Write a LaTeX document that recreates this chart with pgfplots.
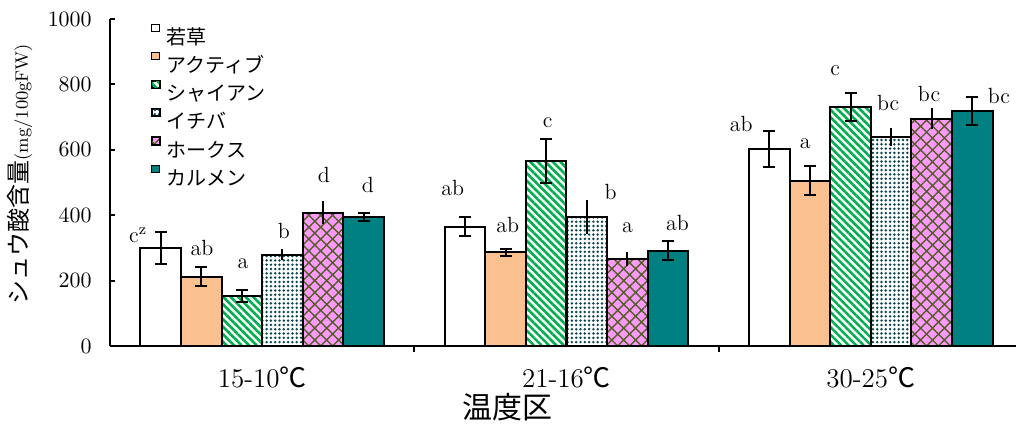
\documentclass[border=0pt]{standalone}
\usepackage{fontspec}
\usepackage{pgfplots}
\pgfplotsset{compat=1.18}
\usetikzlibrary{patterns.meta,calc}
\newfontfamily\cjk{Noto Sans CJK JP}

\definecolor{peach}{RGB}{250,192,143}
\definecolor{stripegreen}{RGB}{0,176,80}
\definecolor{dotteal}{RGB}{10,70,80}
\definecolor{hawkpink}{RGB}{255,153,255}
\definecolor{hatcholive}{RGB}{80,96,32}
\definecolor{carmenteal}{RGB}{0,128,128}

\pgfplotsset{
  legsq/.style={legend image code/.code={%
      \draw[##1,draw=black,line width=0.5pt] (0pt,2.8pt) rectangle (4pt,6.6pt);}},
  errs/.style={
    error bars/y dir=both, error bars/y explicit,
    error bars/error bar style={black,line width=1pt},
    error bars/error mark options={black,line width=1pt,mark size=3pt,rotate=90}},
  errsnocap/.style={
    error bars/y dir=both, error bars/y explicit,
    error bars/error bar style={black,line width=1pt},
    error bars/error mark=none},
}

\newcommand{\lbl}[3]{\node[anchor=base,inner sep=0pt,font=\fontsize{11}{12}\selectfont] at (axis cs:#1,#2) {#3};}

\begin{document}
\begin{tikzpicture}
\begin{axis}[
  name=ax,
  scale only axis, width=453pt, height=163.5pt,
  xmin=-0.5, xmax=2.477, ymin=0, ymax=1000,
  axis x line=bottom, axis y line=left,
  axis line style={-,black,line width=1pt},
  tick align=inside,
  ytick={0,200,...,1000},
  yticklabel style={/pgf/number format/1000 sep={}},
  major tick length=2.5pt,
  y tick style={black,line width=1pt},
  yticklabel style={font=\fontsize{10.5}{12}\selectfont,inner sep=0pt,anchor=east,xshift=-9pt},
  xtick={0,1,2},
  xticklabels={15-10{\cjk ℃},21-16{\cjk ℃},30-25{\cjk ℃}},
  major x tick style={draw=none},
  minor xtick={0.5,1.5},
  minor x tick style={black,line width=1pt},
  minor tick length=3pt,
  xticklabel style={font=\fontsize{13.5}{15}\selectfont,inner sep=0pt,anchor=base,yshift=-18pt},
  xlabel={\cjk 温度区},
  xlabel style={font=\fontsize{15}{17}\selectfont,at={(axis description cs:0.439,0)},anchor=center,yshift=-30.5pt},
  ylabel={{\cjk\fontsize{12}{14}\selectfont シュウ酸含量}{\fontsize{9}{10}\selectfont(mg/100gFW)}},
  ylabel style={at={(axis description cs:-0.0993,0.526)},anchor=center},
  ybar, bar width=0.1333,
  clip=false,
  legend style={draw=none,fill=none,inner sep=0pt,
    at={(axis description cs:0.0449,0.987)},anchor=north west,
    font=\cjk\fontsize{10}{12}\selectfont,
    row sep=2.25pt,column sep=3.3pt,
    nodes={inner sep=0pt,text height=8.5pt,text depth=1.5pt}},
  legend cell align=left,
]
% 若草
\addplot[fill=white,draw=black,line width=1pt,bar shift=-0.3333,errs,legsq]
  coordinates {(0,300) +- (0,48) (1,365) +- (0,30) (2,603) +- (0,55)};
% アクティブ
\addplot[fill=peach,draw=black,line width=1pt,bar shift=-0.2,errs,legsq]
  coordinates {(0,212) +- (0,30) (1,286) +- (0,12) (2,506) +- (0,43)};
% シャイアン
\addplot[preaction={fill=white},pattern={Lines[angle=-45,distance=2.65pt,line width=1.3pt]},
  pattern color=stripegreen,draw=black,line width=1pt,bar shift=-0.0667,errs,legsq]
  coordinates {(0,152) +- (0,18) (1,567) +- (0,67) (2,731) +- (0,43)};
% イチバ
\addplot[preaction={fill=white},pattern={Dots[distance=2.15pt,radius=0.68pt]},
  pattern color=dotteal,draw=black,line width=1pt,bar shift=0.0667,errsnocap,legsq]
  coordinates {(0,279) +- (0,17) (1,395) +- (0,51) (2,640) +- (0,28)};
% ホークス
\addplot[preaction={fill=hawkpink},pattern={Hatch[angle=45,distance=4.2pt,line width=0.7pt]},
  pattern color=hatcholive,draw=black,line width=1pt,bar shift=0.2,errsnocap,legsq]
  coordinates {(0,408) +- (0,35) (1,266) +- (0,20) (2,695) +- (0,32)};
% カルメン
\addplot[fill=carmenteal,draw=black,line width=1pt,bar shift=0.3333,errs,legsq]
  coordinates {(0,395) +- (0,13) (1,291) +- (0,29) (2,720) +- (0,43)};
\legend{若草,アクティブ,シャイアン,イチバ,ホークス,カルメン}

% significance letters
\lbl{-0.4075}{318}{c$^{\mathrm{z}}$}
\lbl{-0.1975}{278}{ab}
\lbl{-0.063}{238.5}{a}
\lbl{0.0715}{330}{b}
\lbl{0.203}{501.5}{d}
\lbl{0.347}{468}{d}
\lbl{0.626}{459}{ab}
\lbl{0.8066}{348.6}{ab}
\lbl{0.938}{666.7}{c}
\lbl{1.1446}{449.5}{b}
\lbl{1.2003}{345.6}{a}
\lbl{1.3644}{351.7}{ab}
\lbl{1.5744}{657.5}{ab}
\lbl{1.7844}{605.5}{a}
\lbl{1.8829}{828.7}{c}
\lbl{2.0568}{721.7}{bc}
\lbl{2.1913}{749}{bc}
\lbl{2.421}{743}{bc}
\end{axis}
\pgfresetboundingbox
\path[use as bounding box] ($(ax.south west)+(-55pt,-47.5pt)$) rectangle ($(ax.north east)+(0pt,9.5pt)$);
\end{tikzpicture}
\end{document}
